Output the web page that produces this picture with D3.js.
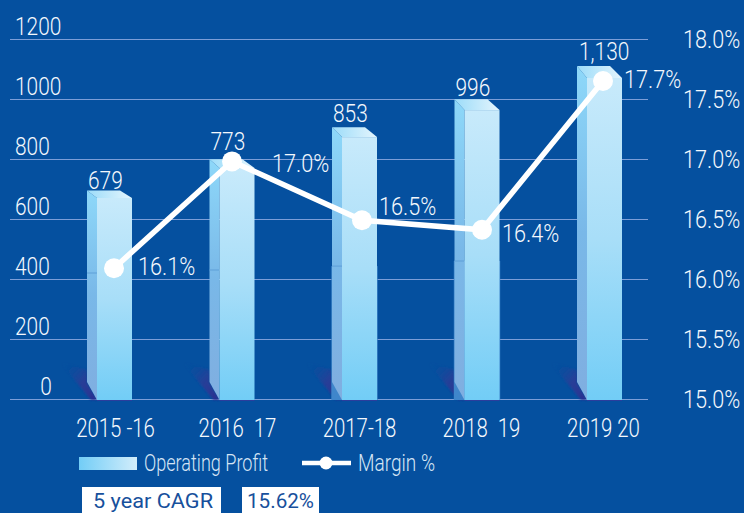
<!DOCTYPE html>
<html>
<head>
<meta charset="utf-8">
<script src="https://cdn.jsdelivr.net/npm/d3@7"></script>
<style>
  html, body { margin: 0; padding: 0; background: #05509f; }
  svg { display: block; }
  text { font-family: Roboto, "Liberation Sans", sans-serif; font-weight: 300; fill: #f4f8fd; white-space: pre; }
</style>
</head>
<body>
<div id="chart"></div>
<script>
// chart values
var years = ["2015 -16", "2016  17", "2017-18", "2018  19", "2019 20"];
var profitLabels = ["679", "773", "853", "996", "1,130"];
// bar heights as they sit against the left axis (the picture is not true to the labels)
var profitLevels = [670, 770, 873, 963, 1070];
var bandLevels = [420, 430, 443, 460, null];
var marginLabels = ["16.1%", "17.0%", "16.5%", "16.4%", "17.7%"];
var marginLevels = [16.09, 16.98, 16.49, 16.41, 17.65];
var leftTicks = [0, 200, 400, 600, 800, 1000, 1200];
var rightTicks = [15, 15.5, 16, 16.5, 17, 17.5, 18];
var cagrTexts = ["5 year CAGR", "15.62%"];
var legendNames = ["Operating Profit", "Margin %"];

// nudges for things that do not line up in the original
var lineNudge = [-1, -5, 3, 1, 0];
var profitLabelDx = [-9, -9, -9, -9, -8];
var profitLabelBase = [189, 150, 122, 96, 60];
var marginLabelDx = [24, 40, 17, 20, 21];
var marginLabelDy = [-2, 2, -14, 3, -2];

var width = 744, height = 513;
var fontSize = 25.5, legendSize = 23, cagrSize = 21;

var svg = d3.select("#chart").append("svg").attr("width", width).attr("height", height);
var defs = svg.append("defs");

function gradient(id, x2, y2, stops) {
    var g = defs.append("linearGradient").attr("id", id)
        .attr("x1", 0).attr("y1", 0).attr("x2", x2).attr("y2", y2);
    stops.forEach(function(s, i) {
        g.append("stop").attr("offset", i / (stops.length - 1)).attr("stop-color", s);
    });
}
gradient("frontFill", 0, 1, ["#c8eafb", "#a8def8", "#72cdf6"]);
gradient("sideFill", 0, 1, ["#8ed8f9", "#79b8e8", "#80aee0"]);
gradient("topFill", 1, 0, ["#9cdcf9", "#e4f5fd"]);
gradient("legendFill", 1, 0, ["#72cdf6", "#d2edfb"]);
defs.append("linearGradient").attr("id", "shadowFill")
    .attr("x1", 0.95).attr("y1", 0.95).attr("x2", 0.05).attr("y2", 0.05)
    .selectAll("stop").data([["0", "#2b2f90", 1], ["0.45", "#2f3a96", 0.75], ["1", "#05509f", 0]]).enter().append("stop")
    .attr("offset", function(d) { return d[0]; })
    .attr("stop-color", function(d) { return d[1]; })
    .attr("stop-opacity", function(d) { return d[2]; });
defs.append("filter").attr("id", "soft").attr("x", "-30%").attr("y", "-30%").attr("width", "160%").attr("height", "160%")
    .append("feGaussianBlur").attr("stdDeviation", 1);

// no condensed font here, so squeeze the text sideways around its own x
function squeezeText(sel, factor) {
    sel.attr("transform", function() {
        var tx = +d3.select(this).attr("x") || 0;
        return "translate(" + tx + ",0) scale(" + factor + ",1) translate(" + (-tx) + ",0)";
    });
}

// scales
var y = d3.scaleLinear().domain([0, 1200]).range([399, 39]);
var yRight = d3.scaleLinear().domain([15, 18]).range([399, 39]);
var x = d3.scalePoint().domain(years).range([115, 603]);
var xBar = d3.scalePoint().domain(years).range([97, 587]);

// grid
svg.append("g").selectAll("line").data(leftTicks).enter().append("line")
    .attr("x1", 10).attr("x2", 648)
    .attr("y1", function(d) { return y(d) + 0.5; })
    .attr("y2", function(d) { return y(d) + 0.5; })
    .attr("stroke", "#7c9ed8").attr("stroke-width", 1);

// left axis, labels sit above their grid line
var leftAxis = svg.append("g")
    .call(d3.axisLeft(y).tickValues(leftTicks).tickSize(0).tickFormat(d3.format("d")));
leftAxis.select(".domain").remove();
leftAxis.selectAll("text")
    .attr("text-anchor", function(d) { return d === 0 ? "middle" : "start"; })
    .attr("x", function(d) { return d === 0 ? 46 : 15; })
    .attr("y", -13)
    .attr("dy", "0.35em")
    .attr("font-size", fontSize)
    .call(squeezeText, 0.82);

// right axis
var rightAxis = svg.append("g").attr("transform", "translate(683,0)")
    .call(d3.axisRight(yRight).tickValues(rightTicks).tickSize(0).tickFormat(function(d) { return d.toFixed(1) + "%"; }));
rightAxis.select(".domain").remove();
rightAxis.selectAll("text").attr("x", 0).attr("dy", "0.35em").attr("font-size", fontSize)
    .call(squeezeText, 0.85);

// bottom axis
var bottomAxis = svg.append("g").attr("transform", "translate(0,437)")
    .call(d3.axisBottom(x).tickSize(0));
bottomAxis.select(".domain").remove();
bottomAxis.selectAll("text").attr("y", 0).attr("dy", 0).attr("font-size", fontSize)
    .call(squeezeText, 0.8);

// one 3d column per year
var barW = 35, sideW = 10, sideRise = 17;
var bars = svg.append("g").selectAll("g").data(years).enter().append("g")
    .attr("transform", function(d) { return "translate(" + xBar(d) + ",0)"; });

// shadow on the floor
bars.append("path")
    .attr("d", function() {
        var base = y(0) + 1;
        return "M-37," + (base - 38) + "L-10," + (base - 30) + "L-10," + (base - sideRise) + "L0," + base + "L-6," + base + "Z";
    })
    .attr("fill", "url(#shadowFill)").attr("filter", "url(#soft)");
bars.append("rect")
    .attr("x", 0).attr("width", barW).attr("y", y(0) + 0.5).attr("height", 1.5)
    .attr("fill", "#35389c").attr("opacity", 0.8);

// darker edge on the lower part of the two middle columns
bars.filter(function(d, i) { return i === 2 || i === 3; }).append("rect")
    .attr("x", -sideW - 0.7).attr("width", sideW + barW + 1.4)
    .attr("y", function(d) { return y(bandLevels[years.indexOf(d)]); })
    .attr("height", function(d) { return y(0) - y(bandLevels[years.indexOf(d)]) + 1; })
    .attr("fill", "#3f86cb");

bars.append("path")
    .attr("d", function(d, i) {
        var h = y(0) - y(profitLevels[i]);
        var top = y(profitLevels[i]), depth = h * 0.0375;
        return "M" + (-sideW) + "," + (top - depth) + "L0," + top + "L0," + (y(0) + 1) + "L" + (-sideW) + "," + (y(0) - sideRise) + "Z";
    })
    .attr("fill", "url(#sideFill)");

bars.filter(function(d, i) { return bandLevels[i] !== null; }).append("line")
    .attr("x1", -sideW).attr("x2", 0)
    .attr("y1", function(d) { return y(bandLevels[years.indexOf(d)]); })
    .attr("y2", function(d) { return y(bandLevels[years.indexOf(d)]); })
    .attr("stroke", "#5f9fd8");

bars.append("rect")
    .attr("x", 0).attr("width", barW)
    .attr("y", function(d, i) { return y(profitLevels[i]); })
    .attr("height", function(d, i) { return y(0) - y(profitLevels[i]) + 1; })
    .attr("fill", "url(#frontFill)");

bars.append("path")
    .attr("d", function(d, i) {
        var h = y(0) - y(profitLevels[i]);
        var top = y(profitLevels[i]), depth = h * 0.0375;
        return "M" + (-sideW) + "," + (top - depth) + "L" + (barW - 12) + "," + (top - depth) + "L" + barW + "," + top + "L0," + top + "Z";
    })
    .attr("fill", "url(#topFill)");

bars.append("text")
    .attr("x", function(d, i) { return profitLabelDx[i]; })
    .attr("y", function(d, i) { return profitLabelBase[i]; })
    .attr("font-size", fontSize)
    .text(function(d, i) { return profitLabels[i]; })
    .call(squeezeText, 0.82);

// margin line
var marginLine = d3.line()
    .x(function(d, i) { return x(years[i]) + lineNudge[i]; })
    .y(function(d) { return yRight(d); });

svg.append("path").datum(marginLevels)
    .attr("d", marginLine)
    .attr("fill", "none").attr("stroke", "#fff").attr("stroke-width", 5.5);

svg.append("g").selectAll("circle").data(marginLevels).enter().append("circle")
    .attr("cx", function(d, i) { return x(years[i]) + lineNudge[i]; })
    .attr("cy", function(d) { return yRight(d); })
    .attr("r", 10).attr("fill", "#fff");

svg.append("g").selectAll("text").data(marginLabels).enter().append("text")
    .attr("x", function(d, i) { return x(years[i]) + lineNudge[i] + marginLabelDx[i]; })
    .attr("y", function(d, i) { return yRight(marginLevels[i]) + marginLabelDy[i]; })
    .attr("dy", "0.35em")
    .attr("font-size", fontSize)
    .text(function(d) { return d; })
    .call(squeezeText, 0.85);

// legend
var legend = svg.append("g");
legend.append("rect").attr("x", 79).attr("y", 457).attr("width", 58).attr("height", 13).attr("fill", "url(#legendFill)");
legend.append("text").attr("x", 144).attr("y", 471).attr("font-size", legendSize).style("fill", "#d5e5f5")
    .attr("textLength", 124).attr("lengthAdjust", "spacingAndGlyphs").text(legendNames[0]);
legend.append("line").attr("x1", 302).attr("x2", 351).attr("y1", 463).attr("y2", 463).attr("stroke", "#fff").attr("stroke-width", 4.5);
legend.append("circle").attr("cx", 326).attr("cy", 463).attr("r", 6.5).attr("fill", "#fff");
legend.append("text").attr("x", 358).attr("y", 471).attr("font-size", legendSize).style("fill", "#d5e5f5")
    .attr("textLength", 77).attr("lengthAdjust", "spacingAndGlyphs").text(legendNames[1]);

// cagr boxes
var boxes = svg.append("g").selectAll("g").data(cagrTexts).enter().append("g");
boxes.append("rect")
    .attr("x", function(d, i) { return i === 0 ? 82 : 242; })
    .attr("y", 487)
    .attr("width", function(d, i) { return i === 0 ? 139 : 77; })
    .attr("height", 26)
    .attr("fill", "#fff");
boxes.append("text")
    .attr("x", function(d, i) { return i === 0 ? 93 : 247; })
    .attr("y", 508)
    .attr("font-size", cagrSize)
    .attr("textLength", function(d, i) { return i === 0 ? 120 : 67; })
    .attr("lengthAdjust", "spacingAndGlyphs")
    .style("fill", "#17509c")
    .style("font-weight", 400)
    .text(function(d) { return d; });
</script>
</body>
</html>
